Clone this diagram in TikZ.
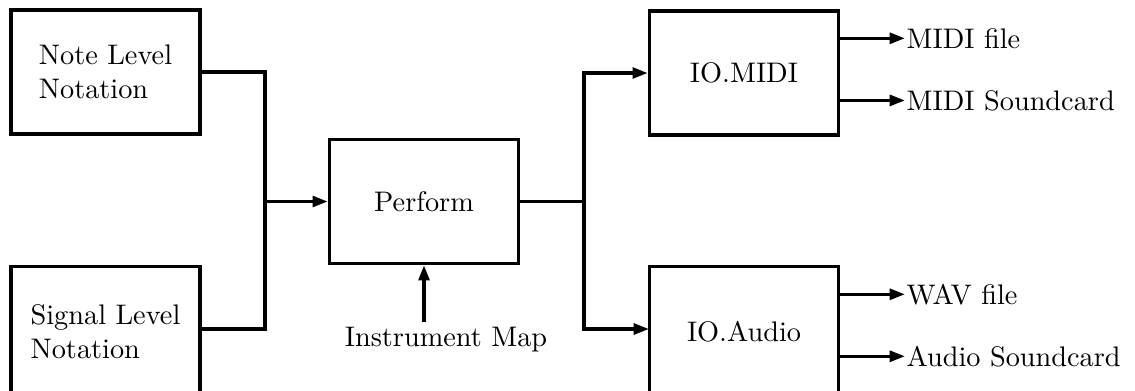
\documentclass[tikz,border=0pt]{standalone}
\usetikzlibrary{arrows.meta}
\begin{document}
\begin{tikzpicture}[x=0.3534pt,y=-0.3534pt,
  line width=1.2pt,
  blk/.style={draw, rectangle, inner sep=0pt, minimum width=66.8pt, minimum height=43.8pt, align=left},
  lowblk/.style={blk, minimum height=46.5pt},
  lbl/.style={inner sep=0pt, anchor=mid west},
  arr/.style={-{Triangle[length=5.4pt,width=3.8pt]}}]
\useasboundingbox (0,0) rectangle (1135,390);
\clip (0,0) rectangle (1135,390);
% blocks
\node[blk]    (note)    at (105.5,72)  {Note Level\\Notation};
\node[lowblk] (signal)  at (105.5,332) {Signal Level\\Notation};
\node[blk]    (perform) at (424,201.5) {Perform};
\node[blk]    (iomidi)  at (744,73)    {IO.MIDI};
\node[lowblk] (ioaudio) at (744,332)   {IO.Audio};
% labels
\node[inner sep=0pt, anchor=base] (im) at (446,346) {Instrument Map};
\node[lbl] (mf) at (905,42)  {MIDI file};
\node[lbl] (ms) at (905,104) {MIDI Soundcard};
\node[lbl] (wf) at (905,298) {WAV file};
\node[lbl] (as) at (905,360) {Audio Soundcard};
% junctions
\coordinate (jl) at (265,201.5);
\coordinate (jr) at (584,201.5);
\coordinate (sl) at (199,329);
\coordinate (al) at (649,329);
% connectors
\draw (note.east) -| (jl) |- (sl);
\draw[arr] (jl) -- (perform.west);
\draw (perform.east) -- (jr);
\draw[arr] (jr) |- (iomidi.west);
\draw[arr] (jr) |- (al);
\draw[arr] ([yshift=1pt]im.north -| perform.south) -- (perform.south);
\draw[arr] (iomidi.east |- mf.west) -- (mf.west);
\draw[arr] (iomidi.east |- ms.west) -- (ms.west);
\draw[arr] (ioaudio.east |- wf.west) -- (wf.west);
\draw[arr] (ioaudio.east |- as.west) -- (as.west);
\end{tikzpicture}
\end{document}
